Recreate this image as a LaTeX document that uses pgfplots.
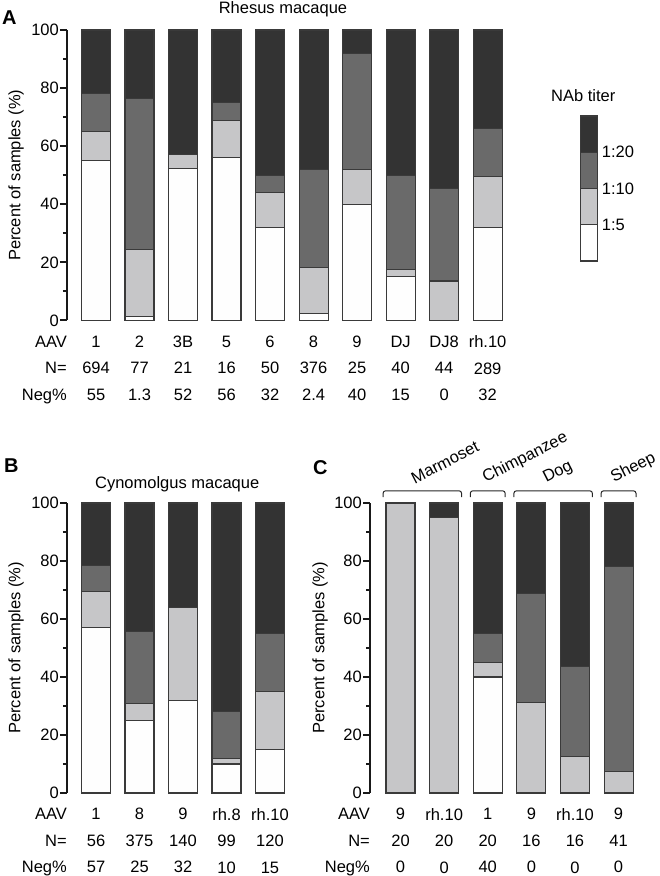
\documentclass[border=0pt]{standalone}
\usepackage{pgfplots}
\pgfplotsset{compat=1.18}
\usepackage{fontspec}
\setmainfont{Liberation Sans}
\definecolor{cw}{HTML}{FEFEFE}
\definecolor{cl}{HTML}{C6C6C8}
\definecolor{cm}{HTML}{6A6A6A}
\definecolor{cd}{HTML}{333333}
\definecolor{edge}{HTML}{3A3A3A}
\newcommand\f{\fontsize{16.5}{26.5}\selectfont}
\pgfplotsset{
 panel/.style={
  scale only axis, ybar stacked, bar width=29pt, ymin=0, ymax=100,
  axis y line*=left, axis x line*=bottom, x axis line style={draw=none},
  xtick=data, xtick style={draw=none},
  ytick={0,20,...,100}, minor ytick={10,30,...,90},
  tick align=outside, major tick length=7pt, minor tick length=4pt,
  y axis line style={line width=2.4pt, black!90},
  ytick style={line width=2pt, black!90},
  minor tick style={line width=2pt, black!90},
  /pgf/number format/assume math mode=true,
  tick label style={font=\f},
  yticklabel style={inner sep=1pt},
  xticklabel style={align=center, inner sep=0pt, anchor=north, yshift=-8pt},
  label style={font=\f},
  ylabel={Percent of samples (\%)},
  clip=false,
  every axis plot/.append style={draw=edge, line width=1.1pt},
 },
}
\begin{document}
\begin{tikzpicture}
\path[use as bounding box] (0pt,0pt) rectangle (660pt,876pt);
% ---------------- Panel A
\begin{axis}[panel, at={(67pt,555.5pt)}, anchor=south west, width=438pt, height=290.5pt,
  xmin=-0.667, xmax=9.4,
  ylabel style={at={(axis description cs:-0.1164,0.5)}, anchor=center},
  xticklabels={{1\\694\\55},{2\\77\\1.3},{3B\\21\\52},{5\\16\\56},{6\\50\\32},{8\\376\\2.4},{9\\25\\40},{DJ\\40\\15},{DJ8\\44\\0},{rh.10\\289\\32}}]
\addplot[fill=cw] coordinates {(0,55) (1,1.3) (2,52.4) (3,56.25) (4,32) (5,2.4) (6,40) (7,15) (8,0) (9,32)};
\addplot[fill=cl] coordinates {(0,10) (1,23.2) (2,4.8) (3,12.5) (4,12) (5,15.9) (6,12) (7,2.5) (8,13.6) (9,17.5)};
\addplot[fill=cm] coordinates {(0,13.2) (1,51.9) (2,0) (3,6.25) (4,6) (5,33.6) (6,40) (7,32.5) (8,31.8) (9,16.7)};
\addplot[fill=cd] coordinates {(0,21.8) (1,23.6) (2,42.8) (3,25) (4,50) (5,48.1) (6,8) (7,50) (8,54.6) (9,33.8)};
\node[font=\f, anchor=base] at (rel axis cs:0.5,1) [yshift=16pt, xshift=-3pt] {Rhesus macaque};
\node[font=\f, anchor=north east, align=right, inner sep=0pt] at (rel axis cs:0,0) [yshift=-15pt, xshift=0pt] {AAV\\N=\\Neg\%};
\end{axis}
% ---------------- Panel B
\begin{axis}[panel, at={(67pt,83pt)}, anchor=south west, width=220.4pt, height=290pt,
  xmin=-0.667, xmax=4.4,
  ylabel style={at={(axis description cs:-0.2314,0.5)}, anchor=center},
  xticklabels={{1\\56\\57},{8\\375\\25},{9\\140\\32},{rh.8\\99\\10},{rh.10\\120\\15}}]
\addplot[fill=cw] coordinates {(0,57.1) (1,25) (2,32) (3,10) (4,15)};
\addplot[fill=cl] coordinates {(0,12.5) (1,6) (2,32) (3,2) (4,20)};
\addplot[fill=cm] coordinates {(0,8.9) (1,24.7) (2,0) (3,16) (4,20)};
\addplot[fill=cd] coordinates {(0,21.5) (1,44.3) (2,36) (3,72) (4,45)};
\node[font=\f, anchor=base] at (rel axis cs:0.5,1) [yshift=14pt] {Cynomolgus macaque};
\node[font=\f, anchor=north east, align=right, inner sep=0pt] at (rel axis cs:0,0) [yshift=-15pt, xshift=0pt] {AAV\\N=\\Neg\%};
\end{axis}
% ---------------- Panel C
\begin{axis}[panel, at={(370pt,83pt)}, anchor=south west, width=266pt, height=290pt,
  xmin=-0.7, xmax=5.4,
  ylabel style={at={(axis description cs:-0.188,0.5)}, anchor=center},
  xticklabels={{9\\20\\0},{rh.10\\20\\0},{1\\20\\40},{9\\16\\0},{rh.10\\16\\0},{9\\41\\0}}]
\addplot[fill=cw] coordinates {(0,0) (1,0) (2,40) (3,0) (4,0) (5,0)};
\addplot[fill=cl] coordinates {(0,100) (1,95) (2,5) (3,31.25) (4,12.5) (5,7.3)};
\addplot[fill=cm] coordinates {(0,0) (1,0) (2,10) (3,37.5) (4,31.25) (5,70.7)};
\addplot[fill=cd] coordinates {(0,0) (1,5) (2,45) (3,31.25) (4,56.25) (5,22)};
\node[font=\f, anchor=north east, align=right, inner sep=0pt] at (rel axis cs:0,0) [yshift=-15pt, xshift=0pt] {AAV\\N=\\Neg\%};
\draw[line width=1pt, black!85, rounded corners=2.5pt] (axis cs:-0.4,102) -- (axis cs:-0.4,104.2) -- (axis cs:1.4,104.2) -- (axis cs:1.4,102);
\draw[line width=1pt, black!85, rounded corners=2.5pt] (axis cs:1.6,102) -- (axis cs:1.6,104.2) -- (axis cs:2.4,104.2) -- (axis cs:2.4,102);
\draw[line width=1pt, black!85, rounded corners=2.5pt] (axis cs:2.6,102) -- (axis cs:2.6,104.2) -- (axis cs:4.4,104.2) -- (axis cs:4.4,102);
\draw[line width=1pt, black!85, rounded corners=2.5pt] (axis cs:4.6,102) -- (axis cs:4.6,104.2) -- (axis cs:5.4,104.2) -- (axis cs:5.4,102);
\node[font=\f, rotate=27] at (axis cs:1.02,114) {Marmoset};
\node[font=\f, rotate=27] at (axis cs:2.86,115.5) {Chimpanzee};
\node[font=\f, rotate=27] at (axis cs:3.61,110.5) {Dog};
\node[font=\f, rotate=27] at (axis cs:5.34,112) {Sheep};
\end{axis}
% ---------------- Legend
\begin{axis}[at={(580.7pt,615pt)}, anchor=south west, scale only axis, width=17pt, height=145pt,
  ybar stacked, bar width=17pt, ymin=0, ymax=4, xmin=-0.5, xmax=0.5,
  axis line style={draw=none}, xtick=\empty, ytick={1,2,3}, yticklabels={1:5,1:10,1:20},
  yticklabel pos=right, tick style={draw=none}, clip=false,
  yticklabel style={font=\f, anchor=west, inner sep=0pt, xshift=4pt},
  every axis plot/.append style={draw=edge, line width=1.1pt}]
\addplot[fill=cw] coordinates {(0,1)};
\addplot[fill=cl] coordinates {(0,1)};
\addplot[fill=cm] coordinates {(0,1)};
\addplot[fill=cd] coordinates {(0,1)};
\node[font=\f, anchor=base] at (rel axis cs:0.5,1) [yshift=14pt, xshift=-6pt] {NAb titer};
\end{axis}
% ---------------- Panel letters
\node[font=\fontsize{20}{24}\selectfont\bfseries, anchor=base west, inner sep=0pt] at (2pt,851pt) {A};
\node[font=\fontsize{20}{24}\selectfont\bfseries, anchor=base west, inner sep=0pt] at (4pt,403pt) {B};
\node[font=\fontsize{20}{24}\selectfont\bfseries, anchor=base west, inner sep=0pt] at (313pt,401pt) {C};
\end{tikzpicture}
\end{document}
